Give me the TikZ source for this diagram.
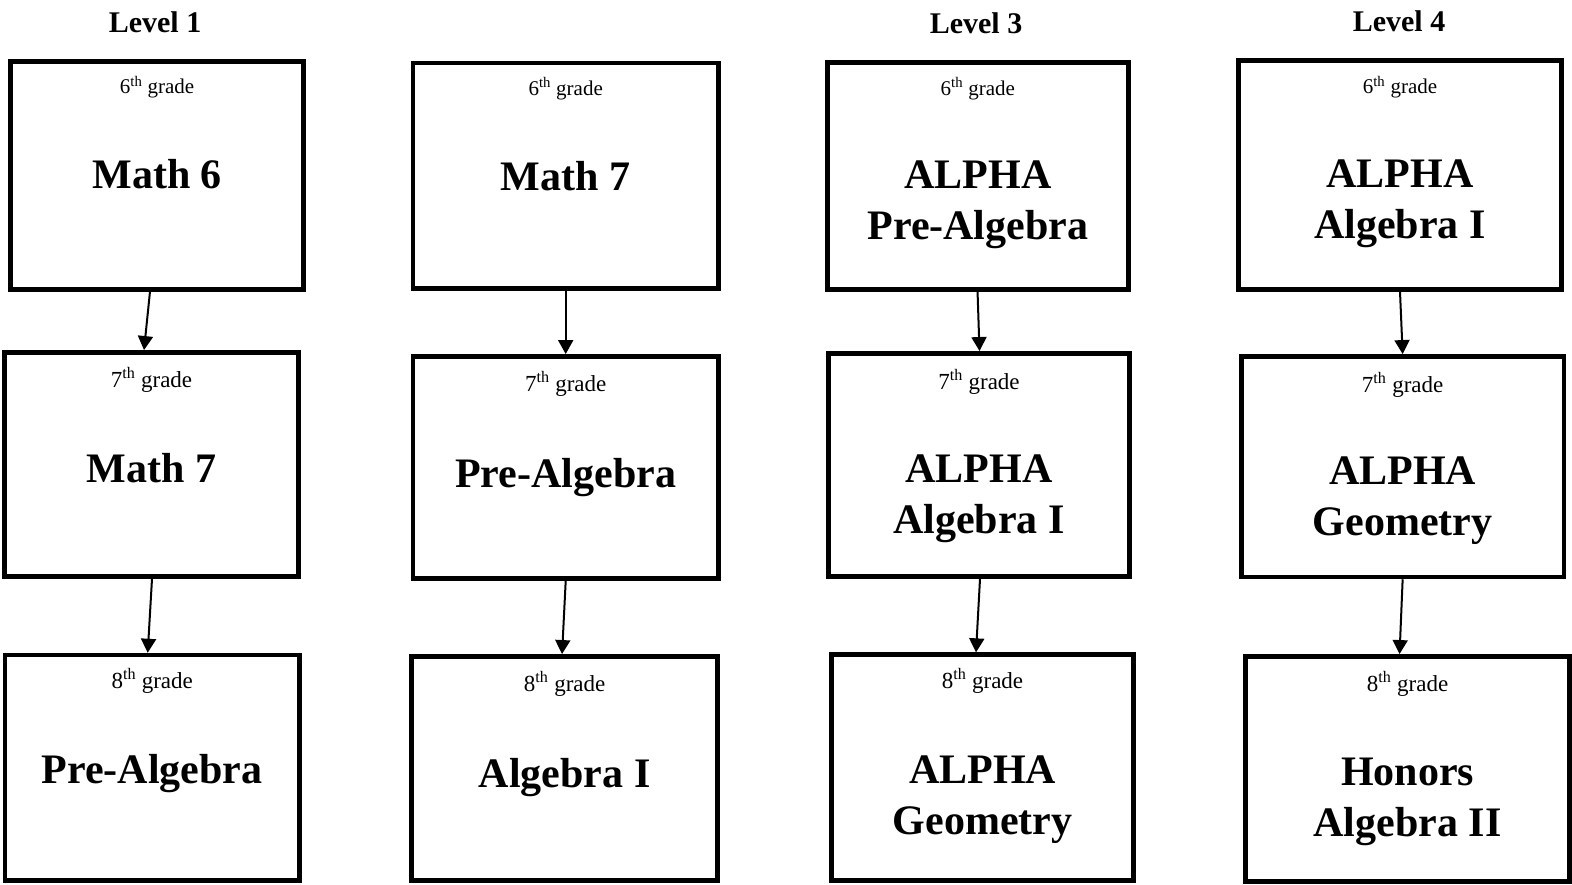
\documentclass[tikz,border=0pt]{standalone}
\usepackage{fontspec}
\setmainfont{Liberation Serif}
\usetikzlibrary{arrows.meta,calc}
\newcommand{\gbox}[5]{\node[box, minimum width={#4-#2}, minimum height={#5-#3}] (#1) at ({(#2+#4)/2},{(#3+#5)/2}) {};}
\tikzset{
  box/.style={draw, line width=4.5pt, inner sep=0pt, fill=white},
  gsm/.style={font=\fontsize{21}{24}\selectfont, anchor=base, inner sep=0pt},
  glg/.style={font=\fontsize{23}{27}\selectfont, anchor=base, inner sep=0pt},
  ttl/.style={font=\fontsize{42}{50}\selectfont\bfseries, anchor=base, inner sep=0pt},
  head/.style={font=\fontsize{30}{36}\selectfont\bfseries, anchor=base, inner sep=0pt},
  arr/.style={line width=2pt, -{Triangle[width=15pt,length=14pt]}}
}
\begin{document}
\begin{tikzpicture}[x=1pt,y=-1pt]
\useasboundingbox[fill=white] (0,0) rectangle (1572,884);

% headings
\node[head] (h1) at (155,32.3) {Level 1};
\node[head] (h3) at (976,33.3) {Level 3};
\node[head] (h4) at (1399,31.7) {Level 4};

% boxes
\gbox{c11}{10.6}{61.3}{303.7}{289.7}
\gbox{c12}{4.6}{352.3}{298.4}{576.7}
\gbox{c13}{5}{655}{299.4}{880.5}
\gbox{c21}{413}{63}{718.4}{288.7}
\gbox{c22}{413}{356.3}{718.4}{578.7}
\gbox{c23}{411.6}{656.3}{717.7}{880.5}
\gbox{c31}{827.3}{62.6}{1128.4}{289.4}
\gbox{c32}{828.3}{353.3}{1129.7}{576.7}
\gbox{c33}{831.6}{654.6}{1133.4}{880.5}
\gbox{c41}{1238.3}{60.6}{1561.7}{289.4}
\gbox{c42}{1241.3}{356.3}{1564}{577}
\gbox{c43}{1245.6}{656.3}{1569.5}{881.5}

% column 1
\node[gsm] (g11) at ([yshift=-34.75pt]c11.north) {6\textsuperscript{th} grade};
\node[ttl] (m11) at ([yshift=-129.75pt]c11.north) {Math 6};
\node[glg] (g12) at ([yshift=-37.15pt]c12.north) {7\textsuperscript{th} grade};
\node[ttl] (m12) at ([yshift=-132.75pt]c12.north) {Math 7};
\node[glg] (g13) at ([yshift=-36.05pt]c13.north) {8\textsuperscript{th} grade};
\node[ttl] (m13) at ([yshift=-131.05pt]c13.north) {Pre-Algebra};

% column 2
\node[gsm] (g21) at ([yshift=-34.75pt]c21.north) {6\textsuperscript{th} grade};
\node[ttl] (m21) at ([yshift=-129.75pt]c21.north) {Math 7};
\node[glg] (g22) at ([yshift=-37.15pt]c22.north) {7\textsuperscript{th} grade};
\node[ttl] (m22) at ([yshift=-133.15pt]c22.north) {Pre-Algebra};
\node[glg] (g23) at ([yshift=-37.15pt]c23.north) {8\textsuperscript{th} grade};
\node[ttl] (m23) at ([yshift=-133.15pt]c23.north) {Algebra I};

% column 3
\node[gsm] (g31) at ([yshift=-35.15pt]c31.north) {6\textsuperscript{th} grade};
\node[ttl] (m31a) at ([yshift=-128.45pt]c31.north) {ALPHA};
\node[ttl] (m31b) at ([yshift=-179.45pt]c31.north) {Pre-Algebra};
\node[glg] (g32) at ([yshift=-38.45pt]c32.north) {7\textsuperscript{th} grade};
\node[ttl] (m32a) at ([yshift=-131.75pt]c32.north) {ALPHA};
\node[ttl] (m32b) at ([yshift=-182.75pt]c32.north) {Algebra I};
\node[glg] (g33) at ([yshift=-36.45pt]c33.north) {8\textsuperscript{th} grade};
\node[ttl] (m33a) at ([yshift=-131.45pt]c33.north) {ALPHA};
\node[ttl] (m33b) at ([yshift=-182.45pt]c33.north) {Geometry};

% column 4
\node[gsm] (g41) at ([yshift=-35.45pt]c41.north) {6\textsuperscript{th} grade};
\node[ttl] (m41a) at ([yshift=-128.75pt]c41.north) {ALPHA};
\node[ttl] (m41b) at ([yshift=-179.75pt]c41.north) {Algebra I};
\node[glg] (g42) at ([yshift=-38.15pt]c42.north) {7\textsuperscript{th} grade};
\node[ttl] (m42a) at ([yshift=-130.45pt]c42.north) {ALPHA};
\node[ttl] (m42b) at ([yshift=-181.45pt]c42.north) {Geometry};
\node[glg] (g43) at ([yshift=-37.15pt]c43.north) {8\textsuperscript{th} grade};
\node[ttl] (m43a) at ([yshift=-131.45pt]c43.north) {Honors};
\node[ttl] (m43b) at ([yshift=-182.45pt]c43.north) {Algebra II};

% arrows
\draw[arr] ($(c11.south)+(-7.2,0)$) -- ($(c12.north)+(-7.5,0)$);
\draw[arr] ($(c12.south)+(0.5,0)$) -- ($(c13.north)+(-4.5,0)$);
\draw[arr] (c21.south) -- (c22.north);
\draw[arr] (c22.south) -- ($(c23.north)+(-2.6,0)$);
\draw[arr] ($(c31.south)+(-0.3,0)$) -- ($(c32.north)+(0.5,0)$);
\draw[arr] ($(c32.south)+(1,0)$) -- ($(c33.north)+(-6.5,0)$);
\draw[arr] (c41.south) -- (c42.north);
\draw[arr] (c42.south) -- ($(c43.north)+(-8,0)$);
\end{tikzpicture}
\end{document}
